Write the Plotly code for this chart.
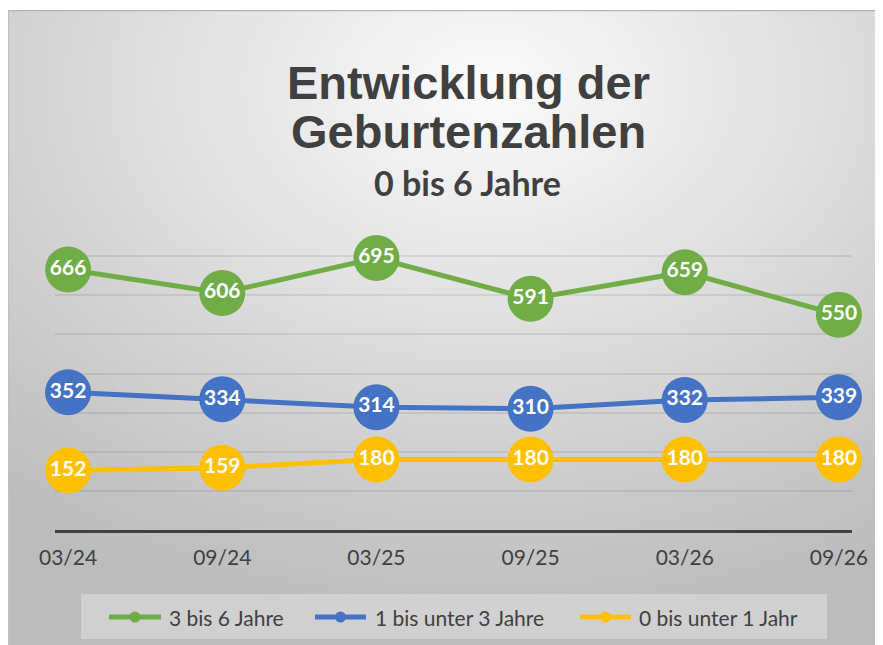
import base64
import plotly.graph_objects as go

categories = ["03/24", "09/24", "03/25", "09/25", "03/26", "09/26"]
series_names = ["3 bis 6 Jahre", "1 bis unter 3 Jahre", "0 bis unter 1 Jahr"]
vals_3_6 = [666, 606, 695, 591, 659, 550]
vals_1_3 = [352, 334, 314, 310, 332, 339]
vals_0_1 = [152, 159, 180, 180, 180, 180]
colors = ["#70AD47", "#4472C4", "#FFC000"]
title_line1 = "Entwicklung der"
title_line2 = "Geburtenzahlen"
subtitle = "0 bis 6 Jahre"

OFF = 8  # page body margin
W, H = 883 - OFF, 645 - OFF
L, R, T, B = 55 - OFF, W - (852 - OFF), 217 - OFF, H - (530 - OFF)
PH = H - T - B
PW = W - L - R

def py(ypage):
    return (H - B - (ypage - OFF)) / PH

def px(xpage):
    return ((xpage - OFF) - L) / PW

fig = go.Figure()
for name, vals, col in zip(series_names, [vals_3_6, vals_1_3, vals_0_1], colors):
    fig.add_trace(go.Scatter(
        x=categories, y=vals, mode="lines+markers+text", name=name,
        text=[str(v) for v in vals], textposition="middle center",
        textfont=dict(family="Lato, Open Sans, sans-serif", size=21, color="white", weight="bold"),
        line=dict(color=col, width=5),
        marker=dict(color=col, size=46, line=dict(width=0)),
        cliponaxis=False, showlegend=False, hoverinfo="skip"))

svg = '''<svg xmlns="http://www.w3.org/2000/svg" width="875" height="635" viewBox="0 0 875 635">
<defs><radialGradient id="g" cx="55%" cy="12%" r="85%" fx="55%" fy="12%">
<stop offset="0%" stop-color="#fbfbfb"/><stop offset="100%" stop-color="#bcbcbc"/></radialGradient></defs>
<rect x="0" y="0" width="875" height="635" fill="url(#g)"/>
<line x1="0" y1="0.5" x2="875" y2="0.5" stroke="#b5b5b5" stroke-width="1.5"/>
<line x1="0.5" y1="0" x2="0.5" y2="635" stroke="#c0c0c0" stroke-width="1"/>
</svg>'''
src = "data:image/svg+xml;base64," + base64.b64encode(svg.encode()).decode()

fig.add_layout_image(dict(source=src, xref="paper", yref="paper",
                          x=px(8), y=py(10), sizex=875 / PW, sizey=635 / PH,
                          xanchor="left", yanchor="top", sizing="stretch", layer="below"))

tfont = dict(family="Liberation Sans, Arial, sans-serif", size=47, color="#404040", weight="bold")
fig.add_annotation(text=title_line1, xref="paper", yref="paper", x=px(469), y=py(82),
                   showarrow=False, font=tfont, xanchor="center", yanchor="middle")
fig.add_annotation(text=title_line2, xref="paper", yref="paper", x=px(469), y=py(131),
                   showarrow=False, font=tfont, xanchor="center", yanchor="middle")
fig.add_annotation(text=subtitle, xref="paper", yref="paper", x=px(467), y=py(183),
                   showarrow=False, xanchor="center", yanchor="middle",
                   font=dict(family="Lato, Open Sans, sans-serif", size=34, color="#404040", weight="bold"))

# manual legend (page pixel layout)
legend_box = dict(x0=81, x1=827, y0=594, y1=639)
legend_sym = [(107, 163), (313, 368), (578, 633)]
legend_txt_x = [167, 373, 637]
legend_y = 617
fig.add_shape(type="rect", xref="paper", yref="paper",
              x0=px(legend_box["x0"]), x1=px(legend_box["x1"]),
              y0=py(legend_box["y1"]), y1=py(legend_box["y0"]),
              fillcolor="rgba(255,255,255,0.3)", line=dict(width=0), layer="below")
for (sx0, sx1), tx, name, col in zip(legend_sym, legend_txt_x, series_names, colors):
    fig.add_shape(type="line", xref="paper", yref="paper",
                  x0=px(sx0 + 2), x1=px(sx1 - 2), y0=py(legend_y), y1=py(legend_y),
                  line=dict(color=col, width=5))
    cx = (sx0 + sx1) / 2
    fig.add_shape(type="circle", xref="paper", yref="paper",
                  x0=px(cx - 5.5), x1=px(cx + 5.5), y0=py(legend_y + 5.5), y1=py(legend_y - 5.5),
                  fillcolor=col, line=dict(width=0))
    fig.add_annotation(text=name, xref="paper", yref="paper", x=px(tx), y=py(legend_y),
                       showarrow=False, xanchor="left", yanchor="middle",
                       font=dict(family="Lato, Open Sans, sans-serif", size=21, color="#404040"))

fig.update_layout(
    width=W, height=H, margin=dict(l=L, r=R, t=T, b=B),
    paper_bgcolor="white", plot_bgcolor="rgba(0,0,0,0)",
    xaxis=dict(type="category", range=[-0.085, 5.085], showgrid=False, zeroline=False,
               showline=True, linecolor="#404040", linewidth=3,
               ticks="outside", ticklen=7, tickcolor="rgba(0,0,0,0)",
               tickfont=dict(family="Lato, Open Sans, sans-serif", size=21, color="#404040")),
    yaxis=dict(range=[0, 800], dtick=100, showticklabels=False, zeroline=False,
               showgrid=True, gridcolor="rgba(0,0,0,0.08)", gridwidth=2, fixedrange=True),
    showlegend=False,
)

fig.write_html("out.html")
